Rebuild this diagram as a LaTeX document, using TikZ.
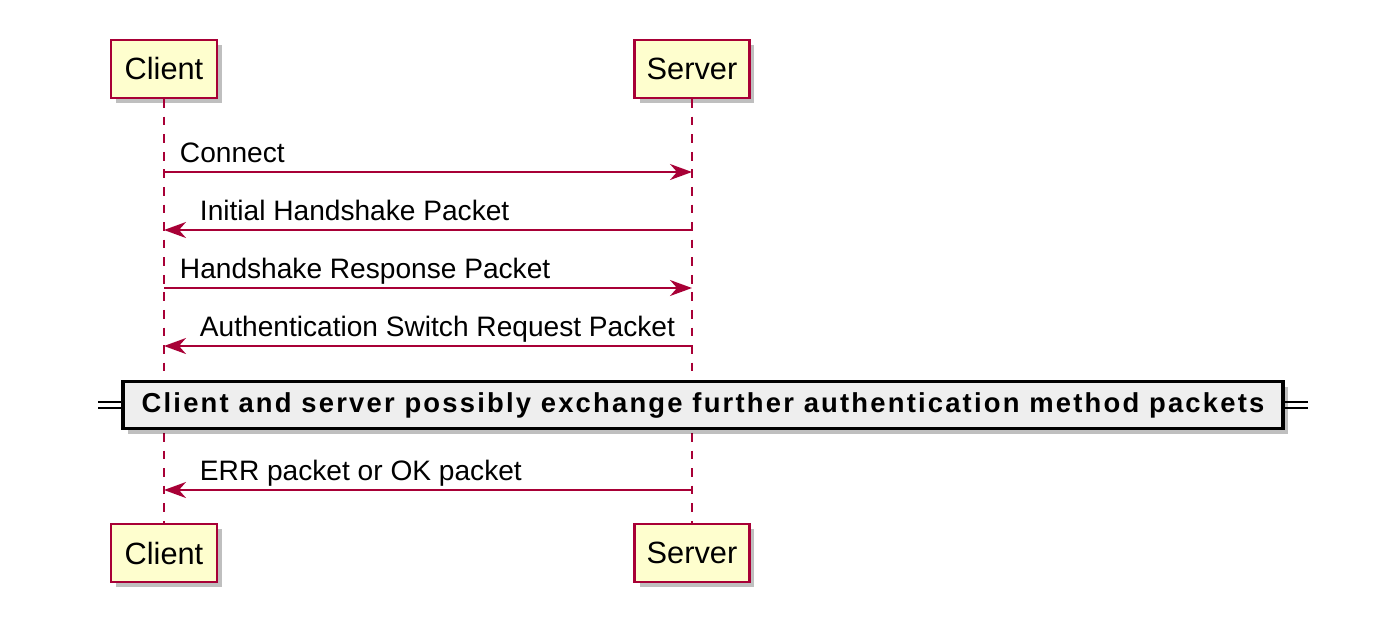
\documentclass[tikz,border=0pt]{standalone}
\usepackage{fontspec}
\setmainfont{Liberation Sans}
\newfontfamily\dividerfont[LetterSpace=8]{Liberation Sans}
\usetikzlibrary{arrows.meta, positioning, shadows}
\definecolor{umlred}{HTML}{A80036}
\definecolor{umlfill}{HTML}{FEFECE}
\definecolor{divfill}{HTML}{EEEEEE}

\begin{document}
\begin{tikzpicture}[
  x=0.02cm, y=-0.02cm,
  >={Stealth[length=4.4mm, width=3.2mm, inset=1.4mm]},
  msg/.style={->, line width=1.1pt, umlred},
  lifeline/.style={umlred, line width=1pt, dash pattern=on 5pt off 5pt},
  msglabel/.style={anchor=base west, font=\fontsize{16}{19}\selectfont, inner sep=0pt, text=black},
]

% =============================================
% Styles
% =============================================
\tikzset{
  participant/.style={
    draw=umlred, line width=1.3pt, fill=umlfill,
    minimum height=1.16cm, font=\fontsize{17.5}{20}\selectfont,
    drop shadow={shadow xshift=0.1cm, shadow yshift=-0.1cm, fill=black, opacity=0.25},
  },
  dividerbox/.style={
    draw=black, line width=2.2pt, fill=divfill,
    minimum width=23.2cm, minimum height=0.94cm,
    font=\fontsize{15.6}{18}\selectfont\dividerfont\bfseries,
    drop shadow={shadow xshift=0.1cm, shadow yshift=-0.1cm, fill=black, opacity=0.25},
  },
}

\useasboundingbox (0,0) rectangle (1400,620);

% =============================================
% Participants (top and bottom)
% =============================================
\node[participant, minimum width=2.12cm] (ctop) at (164,69) {Client};
\node[participant, minimum width=2.3cm] (stop) at (692,69) {Server};
\node[participant, minimum width=2.12cm] (cbot) at (164,553) {Client};
\node[participant, minimum width=2.3cm] (sbot) at (692,553) {Server};

% =============================================
% Lifelines
% =============================================
\draw[lifeline] (ctop.south) -- (cbot.north);
\draw[lifeline] (stop.south) -- (sbot.north);

% =============================================
% Messages
% =============================================
\draw[msg] (ctop.south |- 0,172) -- (stop.south |- 0,172)
  node[msglabel, at start, above right=0.2cm and 0.3cm, anchor=base west] {Connect};

\draw[msg] (stop.south |- 0,230) -- (ctop.south |- 0,230)
  node[msglabel, at end, above right=0.2cm and 0.7cm, anchor=base west] {Initial Handshake Packet};

\draw[msg] (ctop.south |- 0,288) -- (stop.south |- 0,288)
  node[msglabel, at start, above right=0.2cm and 0.3cm, anchor=base west] {Handshake Response Packet};

\draw[msg] (stop.south |- 0,346) -- (ctop.south |- 0,346)
  node[msglabel, at end, above right=0.2cm and 0.7cm, anchor=base west] {Authentication Switch Request Packet};

% =============================================
% Divider
% =============================================
\coordinate (divl) at (98,405);
\coordinate (divr) at (1308,405);
\draw[black, line width=1pt, double distance=2.2pt] (divl) -- (divr);
\node[dividerbox] (divider) at (703,405)
  {Client and server possibly exchange further authentication method packets};

\draw[msg] (stop.south |- 0,490) -- (ctop.south |- 0,490)
  node[msglabel, at end, above right=0.2cm and 0.7cm, anchor=base west] {ERR packet or OK packet};

\end{tikzpicture}
\end{document}
